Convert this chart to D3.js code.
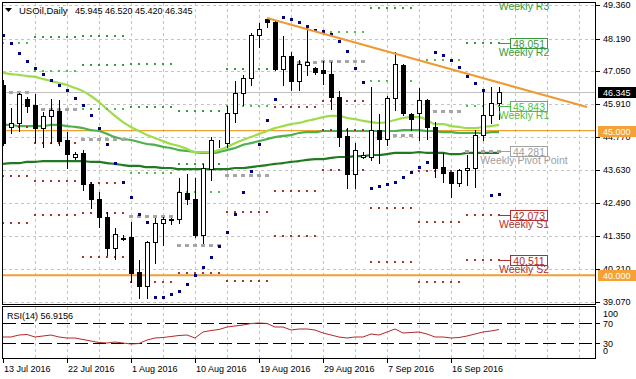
<!DOCTYPE html>
<html><head><meta charset="utf-8">
<script src="https://cdn.jsdelivr.net/npm/d3@7/dist/d3.min.js"></script>
<style>body{margin:0;background:#fff;} svg{display:block;font-family:"Liberation Sans",Arial,sans-serif;}</style>
</head><body><svg id="c" width="636" height="379"></svg>
<script>
// ---------------- data ----------------
const symbolName = "USOil,Daily";
const lastQuote = ["45.945", "46.520", "45.420", "46.345"];
const opens = [46.58,45.13,45.27,46.10,45.89,45.09,45.51,45.68,44.68,44.09,
  44.23,43.16,42.64,42.03,40.94,41.29,41.32,40.11,39.63,41.15,
  41.81,41.91,41.95,42.84,42.64,41.39,43.67,44.57,44.57,45.61,
  46.31,46.82,48.31,48.87,48.76,47.13,47.58,46.72,47.27,47.17,
  47.10,46.96,46.17,44.82,43.50,44.09,44.09,45.02,44.71,46.13,
  47.27,45.58,45.61,46.06,45.13,43.74,43.57,43.19,43.64,43.71,
  44.85,45.54,45.945];
const highs = [46.76,45.79,46.31,46.17,46.27,45.65,46.10,46.06,44.96,44.26,
  44.33,43.22,42.88,42.19,41.63,41.39,41.84,40.53,41.18,41.98,
  42.01,41.98,43.36,43.50,43.36,43.85,44.78,44.68,45.86,46.72,
  46.93,48.38,48.73,48.90,48.80,48.28,47.72,47.45,48.59,47.20,
  47.41,47.38,46.37,45.09,44.57,44.26,46.51,45.58,46.20,47.72,
  47.31,45.61,46.48,46.10,45.30,44.23,43.57,43.67,44.16,45.02,
  46.44,46.51,46.52];
const lows = [44.50,44.92,44.99,45.65,44.61,44.44,44.57,44.50,43.71,44.02,
  42.95,42.33,41.67,40.70,40.56,41.22,39.77,39.21,39.21,40.42,
  41.05,41.77,41.81,42.46,41.32,41.11,43.30,44.44,44.44,45.30,
  45.89,46.58,47.90,48.59,47.10,46.58,46.41,46.41,46.93,46.96,
  46.62,45.75,44.47,43.02,43.02,44.06,43.99,43.88,44.50,45.72,
  45.54,45.02,44.68,44.71,43.40,43.22,42.71,43.09,43.12,43.05,
  44.68,45.27,45.42];
const closes = [44.57,45.27,46.27,45.86,45.09,45.51,45.72,44.64,44.19,44.19,
  43.16,42.64,42.03,40.94,41.43,41.27,40.08,39.63,41.15,41.81,
  41.95,41.93,42.88,42.64,41.39,43.71,44.68,44.56,45.61,46.31,
  46.82,48.31,48.52,48.76,47.13,47.58,46.72,47.31,47.38,47.03,
  46.99,46.17,44.78,43.50,44.33,44.16,45.02,44.71,46.13,47.31,
  45.61,45.40,46.06,45.13,43.71,43.54,43.19,43.64,43.71,44.85,
  45.54,45.96,46.345];
const sar = [48.31,48.04,47.69,47.41,47.17,46.96,46.75,46.58,46.41,46.13,
  45.89,45.54,45.09,44.54,43.88,43.22,42.71,42.12,41.84,39.25,
  39.25,39.35,39.45,39.70,40.01,40.28,40.63,41.01,41.49,42.12,
  42.88,43.61,44.54,45.37,46.10,48.93,48.87,48.76,48.62,48.48,
  48.45,48.35,48.10,47.76,47.17,46.69,43.02,43.09,43.16,43.22,
  43.40,43.57,43.74,43.92,47.72,47.62,47.45,47.20,46.89,46.65,
  46.41,42.77,42.81];
const maFast = [47.00,46.96,46.93,46.89,46.86,46.79,46.72,46.65,46.58,46.48,
  46.37,46.20,45.99,45.75,45.51,45.30,45.13,44.99,44.85,44.75,
  44.64,44.54,44.47,44.37,44.26,44.26,44.26,44.33,44.44,44.57,
  44.68,44.78,44.89,44.99,45.09,45.16,45.23,45.27,45.34,45.40,
  45.47,45.51,45.51,45.44,45.40,45.34,45.30,45.27,45.30,45.37,
  45.44,45.47,45.47,45.37,45.23,45.23,45.16,45.13,45.09,45.09,
  45.13,45.16,45.20];
const maMid = [45.20,45.20,45.16,45.16,45.16,45.16,45.20,45.20,45.16,45.13,
  45.09,45.02,44.99,44.89,44.78,44.71,44.68,44.61,44.54,44.51,
  44.44,44.40,44.33,44.30,44.26,44.23,44.23,44.26,44.33,44.40,
  44.51,44.57,44.64,44.71,44.78,44.82,44.85,44.92,44.95,44.95,
  44.99,44.99,44.99,44.99,44.99,44.99,44.99,44.99,44.99,44.99,
  45.02,45.02,45.02,44.99,44.99,44.95,44.95,44.92,44.92,44.92,
  44.92,44.95,44.95];
const maSlow = [43.85,43.88,43.88,43.92,43.92,43.95,43.95,43.95,43.95,43.95,
  43.95,43.92,43.92,43.88,43.85,43.81,43.78,43.78,43.74,43.74,
  43.71,43.71,43.67,43.67,43.67,43.67,43.67,43.67,43.67,43.71,
  43.71,43.74,43.78,43.81,43.85,43.88,43.92,43.95,43.99,44.02,
  44.02,44.06,44.09,44.09,44.12,44.12,44.16,44.16,44.19,44.23,
  44.23,44.23,44.26,44.23,44.23,44.23,44.19,44.19,44.23,44.23,
  44.23,44.23,44.23];
const rsi = [42,42,46,47,42,44,46,42,40,40,
  37,34,31,30,32,30,28,29,36,40,
  41,43,45,46,40,52,55,57,62,64,
  66,69,70,69,62,62,56,58,58,56,
  50,46,42,40,42,42,48,46,52,58,
  50,51,52,48,42,42,40,41,44,48,
  52,54,56.9156];
const rsiLabel = "RSI(14) 56.9156";
// weekly pivot levels: one value per week (first and last bar index of each week)
const weekFirst = [0,4,10,16,22,28,34,40,46,52,58];
const weekLast  = [3,9,15,21,27,33,39,45,51,57,62];
const pivR3 = [null,49.55,48.29,47.32,45.69,49.53,null,null,null,null,49.613];
const pivR2 = [null,48.24,47.28,45.82,43.85,47.15,null,49.80,49.25,49.51,48.051];
const pivR1 = [48.04,47.06,45.74,43.55,42.89,45.86,50.29,48.42,46.71,47.45,45.843];
const pivP  = [46.34,45.75,44.72,42.05,41.05,43.48,47.37,47.41,44.86,45.67,44.281];
const pivS1 = [45.13,44.57,43.18,39.78,40.09,42.19,45.83,46.03,42.32,43.61,42.073];
const pivS2 = [43.43,43.26,42.16,38.28,38.25,39.81,42.91,45.02,40.47,41.83,40.511];
const pivS3 = [41.81,42.08,40.62,null,null,38.52,41.37,43.64,37.93,39.77,38.303];
const pivNames = ["Weekly R3","Weekly R2","Weekly R1","Weekly Pivot Point","Weekly S1","Weekly S2","Weekly S3"];
const pivLabels = ["49.613","48.051","45.843","44.281","42.073","40.511","38.303"];
const trendPoints = [{i:33, p:48.90},{i:73, p:45.82}];
const hLevels = [45.000, 40.000];
const hLevelLabels = ["45.000","40.000"];
const priceTicks = [49.360,48.190,47.050,45.910,44.770,43.630,42.490,41.350,40.210,39.070];
const priceTickLabels = ["49.360","48.190","47.050","45.910","44.770","43.630","42.490","41.350","40.210","39.070"];
const rsiTicks = [100,70,30,0];
const rsiLevels = [70,30];
const dateIdx = [0,8,16,24,32,40,48,56];
const dateLabels = ["13 Jul 2016","22 Jul 2016","1 Aug 2016","10 Aug 2016","19 Aug 2016","29 Aug 2016","7 Sep 2016","16 Sep 2016"];
const bidPrice = 46.345;

// ---------------- drawing ----------------
const svg = d3.select("#c");
const x = d3.scaleLinear().domain([0,74]).range([3,595]);
const y = d3.scaleLinear().domain([39.07,49.36]).range([302.1,4.7]);
const yr = d3.scaleLinear().domain([0,100]).range([358,308]);
const R = v => Math.round(v);

const defs = svg.append("defs");
defs.append("clipPath").attr("id","mc").append("rect").attr("x",3).attr("y",3).attr("width",592).attr("height",301);
defs.append("clipPath").attr("id","rc").append("rect").attr("x",3).attr("y",307).attr("width",592).attr("height",51);

const main = svg.append("g").attr("clip-path","url(#mc)");
const rp = svg.append("g").attr("clip-path","url(#rc)");
const gridColor = "#c4c4c4";

// vertical grid
const vIdx = d3.range(4,75,4);
[main, rp].forEach((g,k) => {
  g.append("g").selectAll("line").data(vIdx).join("line")
    .attr("x1",d=>x(d)+0.5).attr("x2",d=>x(d)+0.5)
    .attr("y1",k?307:3).attr("y2",k?358:304)
    .attr("stroke",gridColor).attr("stroke-dasharray","3,3").attr("shape-rendering","crispEdges");
});
// horizontal grid
main.append("g").selectAll("line").data(priceTicks).join("line")
  .attr("x1",3).attr("x2",595).attr("y1",d=>R(y(d))+0.5).attr("y2",d=>R(y(d))+0.5)
  .attr("stroke",gridColor).attr("stroke-dasharray","3,3").attr("shape-rendering","crispEdges");

// bid line
main.append("line").attr("x1",3).attr("x2",595).attr("y1",R(y(bidPrice))+0.5).attr("y2",R(y(bidPrice))+0.5)
  .attr("stroke","#c0c0c0").attr("shape-rendering","crispEdges");

// orange horizontal levels
main.append("g").selectAll("line").data(hLevels).join("line")
  .attr("x1",3).attr("x2",595).attr("y1",d=>y(d)).attr("y2",d=>y(d))
  .attr("stroke","#f0a030").attr("stroke-width",(d,i)=>i===0?1.2:2);

// moving averages
const lineGen = arr => d3.line().x((d,i)=>x(i)).y(d=>y(d)).curve(d3.curveMonotoneX)(arr);
[[maSlow,"#217a21"],[maMid,"#4db24d"],[maFast,"#9ddc4a"]].forEach(([arr,c])=>{
  main.append("path").attr("d",lineGen(arr)).attr("fill","none").attr("stroke",c).attr("stroke-width",2.2);
});

// weekly pivot dots
const levelSets = [
  {vals:pivR3, color:"#3a9a3a", big:false},
  {vals:pivR2, color:"#3a9a3a", big:false},
  {vals:pivR1, color:"#4cbf4c", big:false},
  {vals:pivP,  color:"#a6a6a6", big:true},
  {vals:pivS1, color:"#a83232", big:false},
  {vals:pivS2, color:"#a83232", big:false},
  {vals:pivS3, color:"#a83232", big:false}];
const pg = main.append("g");
levelSets.forEach(ls=>{
  const pts = [];
  ls.vals.forEach((v,w)=>{
    if (v===null) return;
    for (let i=weekFirst[w]; i<=weekLast[w]; i++) pts.push({i, v});
  });
  pg.append("g").selectAll("rect").data(pts).join("rect")
    .attr("x",d=>x(d.i)-(ls.big?2:1)).attr("y",d=>R(y(d.v))-(ls.big?1:1))
    .attr("width",ls.big?4:2).attr("height",ls.big?3:2).attr("fill",ls.color).attr("shape-rendering","crispEdges");
});

// SAR
main.append("g").selectAll("rect").data(sar).join("rect")
  .attr("x",(d,i)=>x(i)-1).attr("y",d=>R(y(d))-1).attr("width",3).attr("height",3)
  .attr("fill","#000080").attr("shape-rendering","crispEdges");

// candles
const bars = opens.map((o,i)=>({i,o,h:highs[i],l:lows[i],c:closes[i]}));
const cg = main.append("g");
cg.selectAll("line").data(bars).join("line")
  .attr("x1",d=>x(d.i)+0.5).attr("x2",d=>x(d.i)+0.5)
  .attr("y1",d=>R(y(d.h))).attr("y2",d=>R(y(d.l))+1)
  .attr("stroke","#000").attr("shape-rendering","crispEdges");
cg.selectAll("rect").data(bars).join("rect")
  .attr("x",d=>x(d.i)-1.5)
  .attr("y",d=>R(y(Math.max(d.o,d.c)))+0.5)
  .attr("width",4)
  .attr("height",d=>Math.max(0,R(y(Math.min(d.o,d.c)))-R(y(Math.max(d.o,d.c)))))
  .attr("fill",d=>d.c>=d.o?"#fff":"#000").attr("stroke","#000").attr("shape-rendering","crispEdges");

// trend line
main.append("line")
  .attr("x1",x(trendPoints[0].i)).attr("y1",y(trendPoints[0].p))
  .attr("x2",x(trendPoints[1].i)).attr("y2",y(trendPoints[1].p))
  .attr("stroke","#ef9a35").attr("stroke-width",2.2);

// current week pivot labels
const lastW = weekFirst.length-1;
const labelColors = ["#3a9a3a","#3a9a3a","#4cbf4c","#a0a0a0","#b03030","#b03030","#b03030"];
const lg = main.append("g").attr("font-size","10.5px");
levelSets.forEach((ls,k)=>{
  const v = ls.vals[lastW];
  const yy = R(y(v));
  const col = labelColors[k];
  lg.append("line").attr("x1",x(weekLast[lastW])).attr("x2",510).attr("y1",yy+0.5).attr("y2",yy+0.5)
    .attr("stroke",col).attr("shape-rendering","crispEdges");
  lg.append("rect").attr("x",510.5).attr("y",yy-4.5).attr("width",37).attr("height",10)
    .attr("fill","#fff").attr("stroke",col).attr("shape-rendering","crispEdges");
  lg.append("text").attr("x",529).attr("y",yy+0.5).attr("text-anchor","middle").attr("dominant-baseline","central")
    .attr("fill",col).text(pivLabels[k]);
  lg.append("text").attr("x",524).attr("y",yy+8.5).attr("text-anchor","middle").attr("dominant-baseline","central")
    .attr("fill",col).text(pivNames[k]);
});

// title
main.append("path").attr("d","M5,8 L12,8 L8.5,12 Z").attr("fill","#000");
main.append("text").attr("x",19).attr("y",10.5).attr("dominant-baseline","central").attr("font-size","9.5px").text(symbolName);
main.append("text").attr("x",75).attr("y",10.5).attr("dominant-baseline","central").attr("font-size","9px").text(lastQuote.join(" "));

// RSI panel
rp.append("g").selectAll("line").data(rsiLevels).join("line")
  .attr("x1",3).attr("x2",595).attr("y1",d=>R(yr(d))+0.5).attr("y2",d=>R(yr(d))+0.5)
  .attr("stroke","#000").attr("stroke-dasharray","13,5").attr("shape-rendering","crispEdges");
rp.append("path").attr("d",d3.line().x((d,i)=>x(i)).y(d=>yr(d))(rsi))
  .attr("fill","none").attr("stroke","#b22a2a").attr("stroke-width",1);
rp.append("text").attr("x",7).attr("y",316).attr("dominant-baseline","central").attr("font-size","9px").text(rsiLabel);

// borders
svg.append("rect").attr("x",2.5).attr("y",2.5).attr("width",593).attr("height",302)
  .attr("fill","none").attr("stroke","#000").attr("shape-rendering","crispEdges");
svg.append("rect").attr("x",2.5).attr("y",306.5).attr("width",593).attr("height",52)
  .attr("fill","none").attr("stroke","#000").attr("shape-rendering","crispEdges");

// price axis
const ax = svg.append("g").attr("font-size","9px");
ax.selectAll("line").data(priceTicks).join("line")
  .attr("x1",596).attr("x2",600).attr("y1",d=>R(y(d))+0.5).attr("y2",d=>R(y(d))+0.5)
  .attr("stroke","#000").attr("shape-rendering","crispEdges");
ax.selectAll("text").data(priceTicks).join("text")
  .attr("x",603).attr("y",d=>y(d)).attr("dominant-baseline","central").text((d,i)=>priceTickLabels[i]);
// highlighted price boxes
const boxes = [{v:bidPrice, t:lastQuote[3], bg:"#000", fg:"#fff"}]
  .concat(hLevels.map((v,i)=>({v, t:hLevelLabels[i], bg:"#f4a236", fg:"#fff"})));
boxes.forEach(b=>{
  const yy = R(y(b.v));
  ax.append("rect").attr("x",598).attr("y",yy-5).attr("width",38).attr("height",11).attr("fill",b.bg);
  ax.append("text").attr("x",603).attr("y",yy+0.5).attr("dominant-baseline","central").attr("fill",b.fg).text(b.t);
});

// RSI axis
const ra = svg.append("g").attr("font-size","9px");
const rsiOff = {100:5.5, 70:1, 30:1, 0:-7};
ra.selectAll("text").data(rsiTicks).join("text")
  .attr("x",603).attr("y",d=>yr(d)+rsiOff[d]).attr("dominant-baseline","central").text(d=>d);
ra.selectAll("line").data(rsiLevels).join("line")
  .attr("x1",596).attr("x2",600).attr("y1",d=>R(yr(d))+0.5).attr("y2",d=>R(yr(d))+0.5)
  .attr("stroke","#000").attr("shape-rendering","crispEdges");

// date axis
const da = svg.append("g").attr("font-size","9px");
da.selectAll("line").data(dateIdx).join("line")
  .attr("x1",d=>x(d)+0.5).attr("x2",d=>x(d)+0.5).attr("y1",359).attr("y2",363)
  .attr("stroke","#000").attr("shape-rendering","crispEdges");
da.selectAll("text").data(dateIdx).join("text")
  .attr("x",d=>x(d)+1).attr("y",372).text((d,i)=>dateLabels[i]);
</script></body></html>
